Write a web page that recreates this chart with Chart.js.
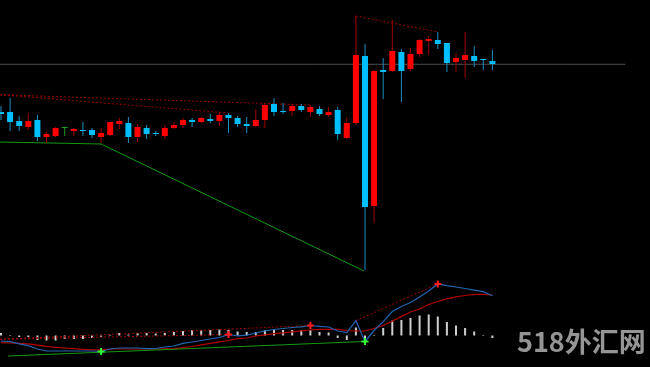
<!DOCTYPE html>
<html><head><meta charset="utf-8">
<script src="https://cdn.jsdelivr.net/npm/chart.js@4.4.1/dist/chart.umd.min.js"></script>
<style>
html,body{margin:0;padding:0;background:#000;overflow:hidden;}
#wrap{position:relative;width:650px;height:367px;}
canvas{display:block;}
#wm{position:absolute;left:517px;top:326px;font-family:"Noto Sans CJK SC";font-weight:700;font-size:27px;line-height:30px;color:#959595;white-space:nowrap;}
</style></head><body>
<div id="wrap"><canvas id="c" width="650" height="367"></canvas><div id="wm">518外汇网</div></div>
<script>
// price candles (arbitrary price units)
const openP  = [288,288,279,273,280,263,264,272,269,270,270,263,265,276,277,263,272,267,264,272,275,280,278,281,279,285,282,276,274,280,296,289,289,294,288,291,285,290,262,277,344,194,330,329,348,331,346,359,360,357,338,340,344,340.5,339];
const closeP = [286,278,274,279,263,266,272,272,271,269,265,267,278,279,263,273,266,266,272,275,280,278,282,279,285,282,276,274,280,295,288,288,294,290,293,286,288,266,277,345,193,329,328,349,329,346,360,361,356,337,342,345,339,340,336];
const highP  = [294,302,284,287,285,268,273,272,272,278,272,272,278,282,283,276,275,269,275,278,282,282,283,286,288,287,284,283,291,296,302,297,296,296,295,294,293,293,283,384,356,330,342,380,351,352,361,364,368,357,347,368,354,340.5,350];
const lowP   = [280,269,269,270,259,257,263,264,264,264,262,257,264,271,257,258,261,264,261,271,272,273,277,277,274,267,273,267,273,272,284,286,284,288,283,284,283,260,261,275,130,177,301,328,298,329,343,345,351,328,328,322,333,330,330];
// oscillator panel
const histV  = [2.5,0.5,-1.5,-1.5,-4.5,-5,-5,-3.5,-3.5,-3.5,-2.5,-1.5,-0.5,2.5,1,2.5,2.5,2,2.5,3.5,4.5,5.5,5.5,5.5,6,5.5,4,3.5,3.5,5.5,5.5,5.5,5.5,5.5,5.5,3.5,3,-2.5,-4.5,8,-6,-0.5,7.5,15,15.5,17.5,20,21,19,13.5,10,7.5,4,0.5,-2.5];
const macdV  = [-5.5,-6.2,-8.3,-10.1,-13.5,-15.5,-15.5,-15.5,-15.5,-15.5,-15.5,-16,-13.5,-12.5,-12.5,-12.5,-13.2,-13,-11.5,-10.5,-7.8,-6.5,-5,-3.5,-2,1,-0.3,0.3,2.5,4.7,6,7,8,8.7,10,9.2,8.5,4.5,3,14.8,-6,5,13.8,24,29,33,38.5,44.5,51.5,49.8,48.5,47,45.3,43.8,39.8];
const signalV= [-7.2,-7.5,-7.8,-8.3,-9.7,-10.9,-11.8,-12.5,-13.2,-13.8,-14.3,-14.3,-13.5,-13.5,-13.5,-13.5,-13.5,-13.5,-13.3,-13.2,-12.1,-11,-9.3,-7.8,-6.3,-5,-3.1,-2.5,-0.5,0.7,1.9,2.6,3.6,4.7,5.5,6.1,6.2,6.2,5,4.6,4.5,7,10,14.3,19.1,23.5,26.5,31,34,36.7,38.7,40,41.1,41.1,40.5];
// trend / divergence lines (x = bar index)
const supportLine = [{x:-0.11,y:258},{x:11,y:256},{x:39.9,y:129}];
const priceDiv1 = [{x:-0.11,y:305.3},{x:34,y:295}];
const priceDiv2 = [{x:-0.11,y:305.3},{x:25,y:287}];
const priceDiv3 = [{x:39,y:384},{x:48,y:368}];
const levelLine = [{x:-0.11,y:335.7},{x:68.6,y:335.7}];
const oscSupport = [{x:0.77,y:-20.5},{x:39.9,y:-6}];
const oscDiv1 = [{x:-0.11,y:-3.8},{x:25,y:1}];
const oscDiv2 = [{x:-0.11,y:-3.8},{x:34,y:10}];
const oscDiv3 = [{x:39,y:14.8},{x:48,y:51.5}];
const redMarks = [{x:25,y:1},{x:34,y:10},{x:48,y:51.5}];
const greenMarks = [{x:11,y:-16},{x:40,y:-6}];

const idx = openP.map((_, i) => i);
const bodyCol = idx.map(i => closeP[i] > openP[i] ? '#ff0000' : closeP[i] < openP[i] ? '#00bfff' : '#1c9c1c');
const wickCol = idx.map(i => closeP[i] > openP[i] ? '#a00000' : closeP[i] < openP[i] ? '#1a8fc0' : '#1c9c1c');

const lineDs = (data, color, axis, order, extra) => Object.assign({
  type:'line', data, yAxisID:axis, borderColor:color, borderWidth:1, pointRadius:0, tension:0, order, fill:false
}, extra || {});

new Chart(document.getElementById('c'), {
  type:'bar',
  data:{ datasets:[
    {type:'bar', data: idx.map(i=>({x:i,y:[openP[i],closeP[i]]})), backgroundColor: bodyCol, barThickness:6, minBarLength:1, grouped:false, inflateAmount:0, yAxisID:'y', order:1},
    {type:'bar', data: idx.map(i=>({x:i,y:[lowP[i],highP[i]]})), backgroundColor: wickCol, barThickness:1, grouped:false, inflateAmount:0, yAxisID:'y', order:2},
    lineDs(supportLine,'#129a12','y',3),
    lineDs(priceDiv1,'#9a0000','y',4,{borderDash:[2,2]}),
    lineDs(priceDiv2,'#9a0000','y',4,{borderDash:[2,2]}),
    lineDs(priceDiv3,'#9a0000','y',4,{borderDash:[2,2]}),
    lineDs(levelLine,'#4b4e53','y',6),
    {type:'bar', data: idx.map(i=>({x:i,y:histV[i]})), backgroundColor:'#cfcfcf', barThickness:2, grouped:false, inflateAmount:0, yAxisID:'yM', order:7},
    lineDs(oscDiv1,'#a00000','yM',5,{borderDash:[2,2]}),
    lineDs(oscDiv2,'#a00000','yM',5,{borderDash:[2,2]}),
    lineDs(oscDiv3,'#a00000','yM',5,{borderDash:[2,2]}),
    lineDs(oscSupport,'#129a12','yM',3),
    lineDs(idx.map(i=>({x:i,y:signalV[i]})),'#b00000','yM',3,{borderWidth:1.2}),
    lineDs(idx.map(i=>({x:i,y:macdV[i]})),'#2464b0','yM',2,{borderWidth:1.2}),
    {type:'line', data:redMarks, yAxisID:'yM', showLine:false, pointStyle:'cross', pointRadius:3.5, pointBorderWidth:2, pointBorderColor:'#ff1a1a', order:0},
    {type:'line', data:greenMarks, yAxisID:'yM', showLine:false, pointStyle:'cross', pointRadius:3.5, pointBorderWidth:2, pointBorderColor:'#33ff33', order:0}
  ]},
  options:{
    responsive:false, animation:false, devicePixelRatio:1,
    layout:{padding:0, autoPadding:false},
    plugins:{legend:{display:false}, tooltip:{enabled:false}},
    scales:{
      x:{type:'linear', min:-0.11, max:71.32, display:false, offset:false, grid:{display:false}},
      y:{type:'linear', min:33, max:400, display:false},
      yM:{type:'linear', min:-31.5, max:335.5, display:false}
    }
  }
});
</script>
</body></html>
